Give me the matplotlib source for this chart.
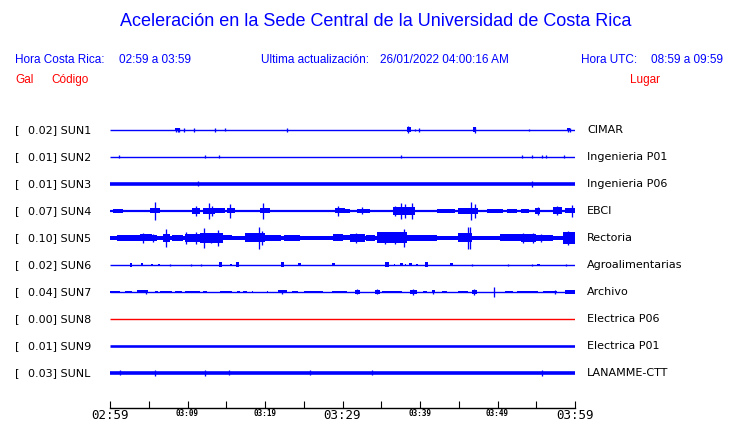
import matplotlib
matplotlib.use("Agg")
import matplotlib.pyplot as plt

# station info
stations = ["SUN1", "SUN2", "SUN3", "SUN4", "SUN5", "SUN6", "SUN7", "SUN8", "SUN9", "SUNL"]
places = ["CIMAR", "Ingenieria P01", "Ingenieria P06", "EBCI", "Rectoria",
          "Agroalimentarias", "Archivo", "Electrica P06", "Electrica P01", "LANAMME-CTT"]
peak_gal = [0.02, 0.01, 0.01, 0.07, 0.10, 0.02, 0.04, 0.00, 0.01, 0.03]
# half thickness of the quiet trace, in pixels
base_half = [0.7, 0.7, 1.8, 1.1, 2.0, 0.7, 0.7, 0.7, 1.3, 1.8]

# time axis (minutes after 02:59)
tick_minutes = list(range(0, 61, 5))
tick_labels = ["02:59", "", "03:09", "", "03:19", "", "03:29", "", "03:39", "", "03:49", "", "03:59"]

# bursts: (start min, end min, half amplitude px); spikes: (min, half amplitude px)
sun1_bursts = [(8.4, 9.0, 1.5), (38.3, 38.9, 2.5), (46.9, 47.2, 2.5), (59.0, 59.4, 1.5)]
sun1_spikes = [(8.5, 2), (8.8, 2), (8.9, 2), (9.5, 2), (10.9, 1.8), (13.5, 1.8), (14.9, 1.5),
               (22.9, 2), (38.5, 3.5), (39.3, 1.2), (39.9, 2), (47.1, 3), (54.0, 1.2),
               (59.1, 2), (59.3, 2)]

sun2_bursts = []
sun2_spikes = [(1.1, 1.5), (12.2, 1.5), (14.0, 1.5), (37.5, 1.5), (53.2, 1.5), (54.4, 1.5),
               (55.8, 1.5), (56.3, 1.5), (58.6, 1.5)]

sun3_bursts = []
sun3_spikes = [(11.3, 2.5), (54.4, 3)]

sun4_bursts = [(0.4, 1.7, 2), (1.9, 4.5, 1.4), (5.2, 6.5, 2.5), (6.5, 10.3, 1.3), (10.6, 11.6, 3),
               (12.0, 13.5, 3), (13.5, 14.8, 2.5), (15.1, 16.1, 2.5), (16.8, 19.4, 1.4),
               (19.4, 20.6, 2.5), (21.2, 24.5, 1.3), (25.5, 28.8, 1.3), (29.0, 30.3, 2.5),
               (30.3, 31.0, 1.6), (31.9, 33.5, 2.0), (33.5, 36.2, 1.3), (36.5, 39.4, 4.0),
               (39.4, 42.0, 1.4), (42.2, 44.5, 1.6), (44.9, 47.5, 3.0), (48.6, 50.7, 1.8),
               (51.2, 52.5, 1.8), (53.0, 54.0, 1.6), (54.8, 55.5, 3.0), (57.2, 58.3, 3.5),
               (58.7, 60.0, 2.5)]
sun4_spikes = [(5.8, 9), (11.1, 5), (12.8, 8), (13.2, 5), (15.5, 7), (19.7, 8), (29.4, 5),
               (32.5, 3.5), (36.8, 5), (37.5, 8), (38.1, 7), (39.0, 8), (46.6, 9), (47.1, 7),
               (55.2, 4), (57.7, 4.5), (59.6, 6)]

sun5_bursts = [(0.9, 1.9, 3), (1.9, 3.9, 2.8), (3.9, 5.4, 3.5), (5.4, 6.0, 2.8), (6.8, 7.7, 4),
               (8.0, 9.4, 2.8), (9.7, 11.6, 4), (11.6, 14.6, 5), (14.6, 15.7, 2.5),
               (17.4, 20.0, 4.5), (20.0, 22.0, 2.8), (22.5, 24.5, 2.8), (28.8, 30.1, 3.5),
               (30.1, 31.0, 2.5), (31.0, 32.9, 4.0), (33.0, 34.2, 2.8), (34.5, 38.3, 5.5),
               (38.3, 40.0, 3.0), (40.0, 42.2, 3.0), (44.9, 46.7, 4.5), (50.3, 53.0, 3.5),
               (53.0, 55.0, 4.0), (55.0, 57.2, 3.0), (58.5, 60.0, 6.0)]
sun5_spikes = [(4.3, 5), (5.5, 4), (7.2, 9), (9.8, 6), (11.1, 6), (12.1, 10), (13.0, 5),
               (13.9, 8), (19.2, 11), (19.6, 7), (31.7, 5), (35.5, 6), (36.8, 6), (37.9, 9),
               (46.2, 11), (46.5, 11), (53.3, 5), (54.6, 5), (55.6, 4), (59.1, 7)]

sun6_bursts = [(2.6, 2.9, 2), (4.0, 4.3, 1.5), (5.3, 5.5, 1.2), (6.2, 6.4, 1), (14.0, 14.4, 2.5),
               (15.5, 15.7, 1.2), (16.2, 16.6, 2.5), (22.0, 22.4, 2.5), (24.2, 24.6, 1.5),
               (28.6, 29.0, 1.5), (35.5, 36.0, 2.5), (36.6, 36.8, 1), (37.4, 37.8, 1.5),
               (38.0, 38.2, 1.2), (38.6, 39.0, 1.5), (39.5, 39.7, 1), (40.6, 41.0, 2.5),
               (43.9, 44.3, 1.5), (55.1, 55.5, 1)]
sun6_spikes = [(7.8, 0.8), (10.4, 0.8), (11.7, 0.8), (46.7, 0.8), (51.4, 1), (54.4, 0.8), (58.8, 1.2)]

sun7_bursts = [(0.0, 1.29, 1.3), (1.94, 2.8, 1.3), (3.44, 4.95, 1.5), (5.81, 6.24, 1.1),
               (6.45, 7.96, 1.3), (8.39, 9.25, 1.3), (9.68, 11.61, 1.3), (12.04, 12.47, 1.1),
               (14.19, 15.7, 1.3), (16.34, 16.77, 1.1), (17.2, 17.63, 1.1), (18.28, 18.49, 1.1),
               (20.2, 20.43, 1.1), (21.72, 22.8, 1.5), (23.44, 24.3, 1.3), (25.08, 27.53, 1.3),
               (28.6, 30.54, 1.3), (31.61, 32.26, 1.6), (34.19, 34.84, 1.8), (35.05, 37.63, 1.3),
               (38.71, 39.57, 1.8), (40.43, 40.86, 1.3), (41.51, 41.94, 1.5), (42.8, 43.44, 1.1),
               (44.95, 46.24, 1.1), (46.67, 47.31, 1.6), (50.97, 52.04, 1.3), (52.47, 55.27, 1.3),
               (55.91, 57.63, 1.3), (58.71, 60.0, 1.6)]
sun7_spikes = [(4.65, 2), (22.24, 2), (31.91, 2.5), (34.5, 2.5), (39.14, 3), (41.7, 2),
               (47.01, 3), (49.5, 5), (57.42, 2)]

sun8_bursts, sun8_spikes = [], []
sun9_bursts, sun9_spikes = [], []
sunl_bursts = []
sunl_spikes = [(1.3, 2.5), (5.8, 3), (12.3, 3), (15.3, 2.5), (25.8, 2.5), (33.8, 2.5), (55.7, 3)]

bursts = [sun1_bursts, sun2_bursts, sun3_bursts, sun4_bursts, sun5_bursts,
          sun6_bursts, sun7_bursts, sun8_bursts, sun9_bursts, sunl_bursts]
spikes = [sun1_spikes, sun2_spikes, sun3_spikes, sun4_spikes, sun5_spikes,
          sun6_spikes, sun7_spikes, sun8_spikes, sun9_spikes, sunl_spikes]

W, H = 740, 423
BLUE = "#0000ff"
RED = "#ff0000"
PX = 0.72  # one pixel in points at 100 dpi

fig = plt.figure(figsize=(W / 100, H / 100), dpi=100)


def ftext(x, y, s, **kw):
    fig.text(x / W, 1 - y / H, s, **kw)


# header
hdr = dict(family="Liberation Sans", va="center")
ftext(376, 22, "Aceleración en la Sede Central de la Universidad de Costa Rica",
      fontsize=13, color=BLUE, ha="center", **hdr)
ftext(15, 60, "Hora Costa Rica:", fontsize=8.5, color=BLUE, **hdr)
ftext(119, 60, "02:59 a 03:59", fontsize=8.5, color=BLUE, **hdr)
ftext(261, 60, "Ultima actualización:", fontsize=8.5, color=BLUE, **hdr)
ftext(380, 60, "26/01/2022 04:00:16 AM", fontsize=8.5, color=BLUE, **hdr)
ftext(581, 60, "Hora UTC:", fontsize=8.5, color=BLUE, **hdr)
ftext(651, 60, "08:59 a 09:59", fontsize=8.5, color=BLUE, **hdr)
ftext(15, 80, "Gal", fontsize=8.5, color=RED, **hdr)
ftext(51, 80, "Código", fontsize=8.5, color=RED, **hdr)
ftext(630, 80, "Lugar", fontsize=8.5, color=RED, **hdr)

# trace area: x in minutes, y in pixels from the top of the image
top, bottom = 115, 408
ax = fig.add_axes([110 / W, 1 - bottom / H, 465 / W, (bottom - top) / H])
ax.set_xlim(0, 60)
ax.set_ylim(bottom, top)
ax.patch.set_visible(False)

for i, name in enumerate(stations):
    y = 130 + 27 * i
    col = RED if peak_gal[i] == 0 else BLUE
    h = base_half[i]
    ax.hlines(y, 0, 60, color=col, lw=2 * h * PX, capstyle="butt")
    for t0, t1, a in bursts[i]:
        ax.fill_between([t0, t1], y - a, y + a, color=col, lw=0)
    if spikes[i]:
        ts = [s[0] for s in spikes[i]]
        amps = [s[1] for s in spikes[i]]
        ax.vlines(ts, [y - a for a in amps], [y + a for a in amps], color=col, lw=1.3 * PX)

    ftext(15, y, "[", fontsize=8, color="black", va="center")
    ftext(27.5, y, f"{peak_gal[i]:.2f}] {name}", fontsize=8, color="black", va="center")
    ftext(587, y, places[i], fontsize=8, color="black", va="center")

# time axis
for s in ["top", "left", "right"]:
    ax.spines[s].set_visible(False)
ax.spines["bottom"].set_linewidth(1.0)
ax.set_yticks([])
ax.set_xticks(tick_minutes)
ax.set_xticklabels(tick_labels)
ax.tick_params(axis="x", direction="in", length=5, width=0.8, pad=1)
for m, lab in zip(tick_minutes, ax.get_xticklabels()):
    lab.set_fontfamily("DejaVu Sans Mono")
    if m % 30 == 0:
        lab.set_fontsize(9)
    else:
        lab.set_fontsize(5.5)
        lab.set_fontweight("bold")

fig.savefig("out.png", dpi=100)
